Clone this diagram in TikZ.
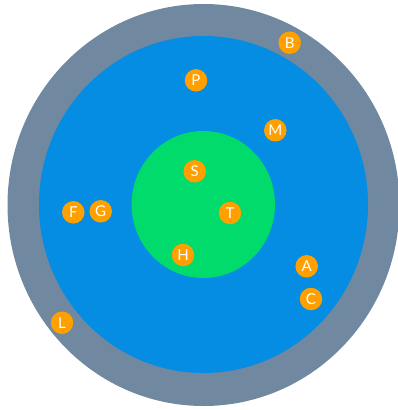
\documentclass[tikz,border=0pt]{standalone}
\usepackage{fontspec}
\setmainfont{Lato}
\usepackage{tikz}
\usepackage{xcolor}

\definecolor{ringgray}{RGB}{112,136,160}
\definecolor{zoneblue}{RGB}{5,140,227}
\definecolor{coregreen}{RGB}{0,219,107}
\definecolor{dotorange}{RGB}{255,160,0}

\begin{document}
\begin{tikzpicture}[x=1pt, y=-1pt,
    dot/.style={circle, fill=dotorange, minimum size=22.5pt, inner sep=0pt,
      text=white, font=\fontsize{15}{15}\selectfont}]
  \useasboundingbox (0,0) rectangle (398,410);
  % Outer ring
  \fill[ringgray] (203.5,205) ellipse [x radius=196, y radius=201];
  % Middle zone
  \fill[zoneblue] (203.5,204.5) ellipse [x radius=164.5, y radius=168.5];
  % Core
  \fill[coregreen] (203.3,204.5) ellipse [x radius=71.7, y radius=73.5];
  % Points on the ring
  \node[dot] (b) at (289.7, 42.7) {B};
  \node[dot] (l) at (62, 322.7) {L};
  % Points in the middle zone
  \node[dot] (p) at (196, 80.3) {P};
  \node[dot] (m) at (275.3, 130.3) {M};
  \node[dot] (f) at (73.3, 212.3) {F};
  \node[dot] (g) at (100.7, 211.3) {G};
  \node[dot] (a) at (306.7, 266.3) {A};
  \node[dot] (c) at (311, 299) {C};
  % Points in the core
  \node[dot] (s) at (194.7, 171.3) {S};
  \node[dot] (t) at (230, 213) {T};
  \node[dot] (h) at (183, 255) {H};
\end{tikzpicture}
\end{document}
